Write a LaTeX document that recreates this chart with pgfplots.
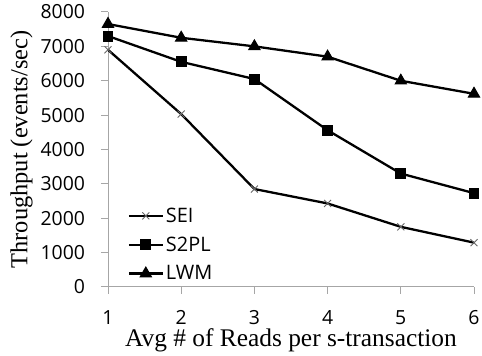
\documentclass[border=0pt]{standalone}
\usepackage{fontspec}
\setmainfont{Liberation Serif}
\newfontfamily\sansf{Open Sans}
\usepackage{pgfplots}
\pgfplotsset{compat=1.18}
\begin{document}
\begin{tikzpicture}
\begin{axis}[
 name=ax,
 scale only axis, width=366bp, height=275bp,
 xmin=1, xmax=6, ymin=0, ymax=8000,
 axis x line*=bottom, axis y line*=left, axis line style={black!35, line width=1pt},
 xtick={1,2,3,4,5,6}, ytick={0,1000,...,8000},
 tick style={black!35, line width=1pt},
 tick align=outside, major tick length=7bp,
 ticklabel style={font=\sansf\fontsize{19.5}{20}\selectfont},
 /pgf/number format/assume math mode=true,
 /pgf/number format/1000 sep={},
 xticklabel style={inner ysep=1bp, yshift=-15bp},
 yticklabel style={xshift=-12.5bp},
 xlabel={Avg \# of Reads per s-transaction},
 ylabel={Throughput (events/sec)},
 xlabel style={font=\fontsize{25.5}{26}\selectfont, inner ysep=1bp, yshift=-1.5bp},
 ylabel style={font=\fontsize{24.5}{25}\selectfont, yshift=1bp},
 legend style={draw=none, fill=none, at={(0.045,0.005)}, anchor=south west,
   font=\sansf\fontsize{20}{20}\selectfont, row sep=9bp},
 legend cell align=left,
 legend image code/.code={\draw[mark repeat=2,mark phase=2,#1] plot coordinates {(0cm,0cm) (0.6cm,0cm) (1.2cm,0cm)};},
 clip=false,
 every axis plot/.append style={black, line width=2.3pt},
]
\addplot[mark=x, mark size=5pt, mark options={black!60, line width=0.9pt}] coordinates {
(1,6900) (2,5030) (3,2850) (4,2430) (5,1750) (6,1290)};
\addlegendentry{SEI}
\addplot[mark=square*, mark size=5pt, mark options={solid, line width=1pt}] coordinates {
(1,7300) (2,6550) (3,6050) (4,4560) (5,3300) (6,2730)};
\addlegendentry{S2PL}
\addplot[mark=triangle*, mark size=6.5pt, mark options={solid, line width=1pt}] coordinates {
(1,7650) (2,7250) (3,7000) (4,6700) (5,6000) (6,5620)};
\addlegendentry{LWM}
\end{axis}
\pgfresetboundingbox
\path[use as bounding box] ([shift={(-108bp,-69bp)}]ax.south west) rectangle ([shift={(8bp,12bp)}]ax.north east);
\end{tikzpicture}
\end{document}
